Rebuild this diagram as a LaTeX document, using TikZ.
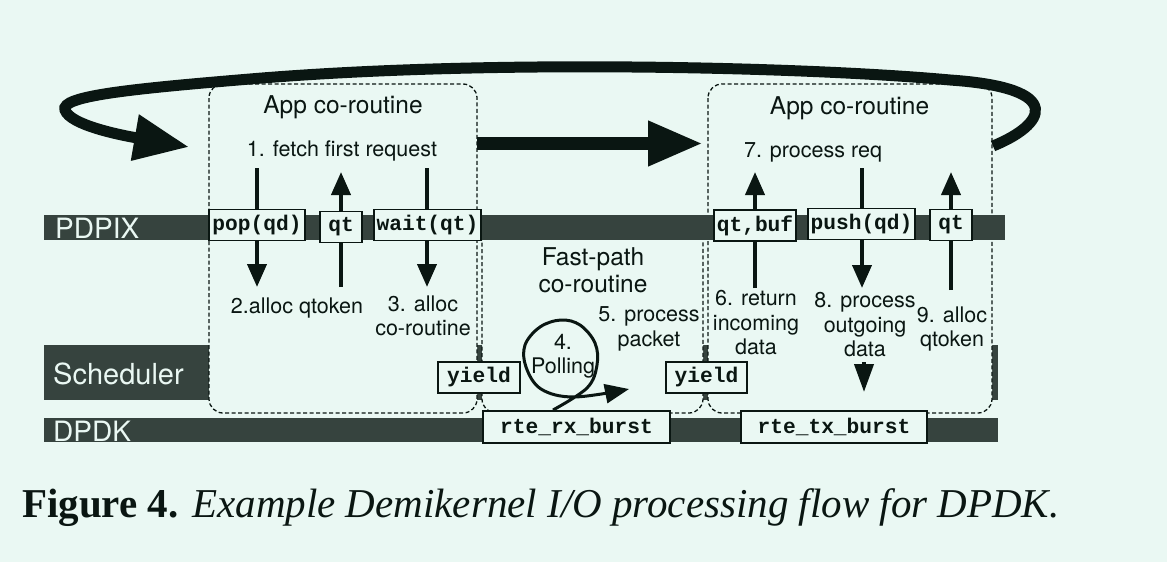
\documentclass[tikz,border=0pt]{standalone}
\usepackage{fontspec}
\setmainfont{Liberation Serif}
\newfontfamily\hvfont{TeX Gyre Heros}
\newfontfamily\courfont{Liberation Mono}
\usetikzlibrary{arrows.meta}
\definecolor{bg}{RGB}{234,248,243}
\definecolor{barc}{RGB}{54,67,62}
\definecolor{ink}{RGB}{10,22,18}
\begin{document}
\begin{tikzpicture}[x=1pt,y=-1pt,
  barbox/.style={fill=barc,draw=none},
  barlabel/.style={text=bg,font=\hvfont\fontsize{28}{30}\selectfont,anchor=base west,inner sep=0pt},
  corobox/.style={draw=ink,dash pattern=on 4pt off 2.5pt,line width=1.3pt,rounded corners=14pt,fill=bg},
  api/.style={draw=ink,line width=1.5pt,fill=bg,text=ink,font=\courfont\bfseries\fontsize{21.2}{23}\selectfont,inner sep=0pt,minimum height=31pt},
  lbl/.style={font=\hvfont\fontsize{21.5}{24.5}\selectfont,align=center,text=ink,inner sep=0pt},
  ttl/.style={font=\hvfont\fontsize{24.5}{27}\selectfont,align=center,text=ink,inner sep=0pt},
  flow/.style={draw=ink,line width=4pt,-{Triangle[length=23pt,width=19pt]}},
  bigarrow/.style={draw=ink,line width=13pt,-{Triangle[length=55pt,width=42pt]}},
  looparrow/.style={draw=ink,line width=11pt,-{Triangle[length=55pt,width=44pt]}},
  pollarrow/.style={draw=ink,line width=3pt,-{Triangle[length=24pt,width=19pt]}},
]
% background / bounding box
\fill[bg] (0,0) rectangle (1167,562);
\useasboundingbox (0,0) rectangle (1167,562);

% scheduler bar (behind co-routine boxes)
\fill[barc] (44,345) rectangle (998,400);

% co-routine boxes
\draw[corobox] (209,84) rectangle (477,413);
\draw[corobox] (482,222) rectangle (703,413);
\draw[corobox] (708,84) rectangle (992,413);

% PDPIX and DPDK bars
\fill[barc] (44,215) rectangle (1005,240);
\fill[barc] (44,418) rectangle (998,442);

\node[barlabel] (lpdpix) at (55,238) {PDPIX};
\node[barlabel,font=\hvfont\fontsize{29}{31}\selectfont] (lsched) at (53,384) {Scheduler};
\node[barlabel] (ldpdk) at (53,441) {DPDK};

% small flow arrows (drawn behind the API boxes)
\coordinate (popS) at (257,168);  \coordinate (popE) at (257,287);
\coordinate (qtlS) at (341,287);  \coordinate (qtlE) at (341,172);
\coordinate (waitS) at (427,168); \coordinate (waitE) at (427,287);
\coordinate (qtbS) at (755,288);  \coordinate (qtbE) at (755,172);
\coordinate (pushS) at (862,168); \coordinate (pushE) at (862,288);
\coordinate (qtrS) at (951,290);  \coordinate (qtrE) at (951,172);
\coordinate (outS) at (864,362);  \coordinate (outE) at (864,392);
\draw[flow] (popS) -- (popE);
\draw[flow] (qtlS) -- (qtlE);
\draw[flow] (waitS) -- (waitE);
\draw[flow] (qtbS) -- (qtbE);
\draw[flow] (pushS) -- (pushE);
\draw[flow] (qtrS) -- (qtrE);
\draw[draw=ink,line width=4pt,-{Triangle[length=28pt,width=19pt]}] (outS) -- (outE);

% API boxes
\node[api,minimum width=96pt] (pop) at (257,225) {pop(qd)};
\node[api,minimum width=42pt] (qtl) at (341,227) {qt};
\node[api,minimum width=107pt] (wait) at (427.5,225) {wait(qt)};
\node[api,minimum width=82pt] (qtbuf) at (755,225.5) {qt,buf};
\node[api,minimum width=107pt] (push) at (861.5,224) {push(qd)};
\node[api,minimum width=42pt] (qtr) at (951,225) {qt};
\node[api,minimum width=82pt] (yieldl) at (479,377.5) {yield};
\node[api,minimum width=81pt] (yieldr) at (706.5,377.5) {yield};
\node[api,minimum width=187pt,minimum height=32pt] (rx) at (576.5,427) {rte\_rx\_burst};
\node[api,minimum width=186pt,minimum height=32pt] (tx) at (834,427) {rte\_tx\_burst};

% texts
\node[ttl] (appl) at (343,107) {App co-routine};
\node[ttl] (appr) at (849.5,108) {App co-routine};
\node[ttl] (fast) at (593,270) {Fast-path\\co-routine};
\node[lbl] (t1) at (342,151) {1. fetch first request};
\node[lbl] (t2) at (297,308) {2.alloc qtoken};
\node[lbl] (t3) at (423,316) {3. alloc\\co-routine};
\node[lbl] (t4) at (563,356) {4.\\Polling};
\node[lbl] (t5) at (649,329) {5. process\\packet};
\node[lbl] (t6) at (756,323) {6. return\\incoming\\data};
\node[lbl] (t7) at (813,152) {7. process req};
\node[lbl] (t8) at (865,325) {8. process\\outgoing\\data};
\node[lbl] (t9) at (952,329) {9. alloc\\qtoken};

% big middle arrow
\coordinate (midS) at (477,143.5);
\coordinate (midE) at (703,143.5);
\draw[bigarrow] (midS) -- (midE);

% big loop arrow back to first co-routine
\coordinate (loopS) at (993,146);
\coordinate (loopE) at (189,147);
\draw[looparrow] (loopS) .. controls (1045,125) and (1068,88) .. (950,80)
  .. controls (820,68) and (500,58) .. (250,79)
  .. controls (130,89) and (60,96) .. (65,110)
  .. controls (70,125) and (120,135) .. (loopE);

% polling loop
\coordinate (pollS) at (553,410);
\coordinate (pollE) at (629,389);
\draw[pollarrow] plot[smooth,tension=0.6] coordinates {(pollS) (587,388) (597,365) (595,343) (580,325) (561,320) (540,327) (525,345) (526,367) (541,389) (574,397) (pollE)};

% caption
\node[anchor=base west,inner sep=0pt,text=ink,font=\fontsize{41}{45}\selectfont] (cap) at (22,517) {\textbf{Figure 4.} \textit{Example Demikernel I/O processing flow for DPDK.}};
\end{tikzpicture}
\end{document}
